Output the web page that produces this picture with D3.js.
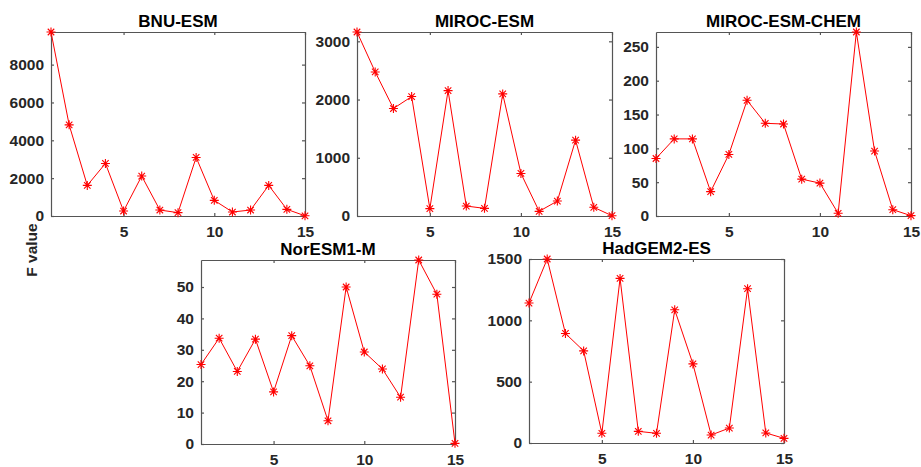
<!DOCTYPE html>
<html>
<head>
<meta charset="utf-8">
<script src="https://cdn.jsdelivr.net/npm/d3@7"></script>
<style>
  body { margin: 0; background: #fff; }
  svg text { font-family: "Liberation Sans", Arial, Helvetica, sans-serif; font-weight: bold; fill: #262626; }
</style>
</head>
<body>
<div id="chart"></div>
<script>
// chart values
const steps = d3.range(1, 16);
const xTicks = [5, 10, 15];

const titles = ["BNU-ESM", "MIROC-ESM", "MIROC-ESM-CHEM", "NorESM1-M", "HadGEM2-ES"];

const bnuEsm = [9724, 4817, 1618, 2778, 264, 2110, 316, 176, 3095, 826, 211, 316, 1618, 352, 10];
const mirocEsm = [3160, 2474, 1846, 2051, 126, 2154, 171, 131, 2097, 731, 80, 257, 1303, 149, 5];
const mirocEsmChem = [85, 114, 114, 36, 91, 171, 137, 136, 54.5, 48.6, 4, 272, 96, 9.3, 0.5];
const norEsm1M = [25.3, 33.7, 23.1, 33.4, 16.6, 34.5, 24.9, 7.4, 50, 29.3, 23.9, 14.9, 58.6, 47.7, 0.2];
const hadGem2Es = [1141, 1500, 893, 751, 79, 1342, 95, 79, 1086, 645, 65, 122, 1258, 82, 38];

const yTicks = [
  [0, 2000, 4000, 6000, 8000],
  [0, 1000, 2000, 3000],
  [0, 50, 100, 150, 200, 250],
  [0, 10, 20, 30, 40, 50],
  [0, 500, 1000, 1500]
];

const series = [bnuEsm, mirocEsm, mirocEsmChem, norEsm1M, hadGem2Es];

// panel boxes (left, top, width, height) in pixels
const panels = [
  {x: 51, y: 32, w: 254, h: 184},
  {x: 357, y: 32, w: 255, h: 184},
  {x: 656, y: 32, w: 255, h: 184},
  {x: 201, y: 260, w: 254, h: 184},
  {x: 529, y: 259, w: 255, h: 184}
];

const svg = d3.select("#chart").append("svg")
    .attr("width", 921)
    .attr("height", 467);

const axisColor = "#555";

panels.forEach((p, i) => {
    const values = series[i];
    const g = svg.append("g").attr("transform", "translate(" + p.x + "," + p.y + ")");

    const x = d3.scaleLinear().domain([1, 15]).range([0, p.w]);
    const y = d3.scaleLinear().domain([0, d3.max(values)]).range([p.h, 0]);

    // axes, MATLAB style: ticks pointing inwards on all four sides
    const bottom = g.append("g")
        .attr("transform", "translate(0," + p.h + ")")
        .call(d3.axisBottom(x).tickValues(xTicks).tickFormat(d3.format("d"))
            .tickSizeInner(-3).tickSizeOuter(0).tickPadding(8));
    g.append("g")
        .call(d3.axisLeft(y).tickValues(yTicks[i]).tickFormat(d3.format("d"))
            .tickSizeInner(-3).tickSizeOuter(0).tickPadding(7));
    g.append("g")
        .call(d3.axisTop(x).tickValues(xTicks).tickSizeInner(-3).tickSizeOuter(0).tickFormat(""));
    g.append("g")
        .attr("transform", "translate(" + p.w + ",0)")
        .call(d3.axisRight(y).tickValues(yTicks[i]).tickSizeInner(-3).tickSizeOuter(0).tickFormat(""));

    g.selectAll(".domain, .tick line").attr("stroke", axisColor).attr("stroke-width", 1.2);
    g.selectAll(".tick text")
        .style("font-size", "15.5px")
        .attr("fill", "#262626");
    bottom.selectAll(".tick text").attr("dy", "0.85em");

    // line
    const line = d3.line()
        .x((d, k) => x(steps[k]))
        .y(d => y(d));

    g.append("path")
        .datum(values)
        .attr("fill", "none")
        .attr("stroke", "#ff0000")
        .attr("stroke-width", 1)
        .attr("d", line);

    // asterisk markers
    const r = 4.5, rd = r * 0.72;
    const star = "M" + (-r) + ",0L" + r + ",0M0," + (-r) + "L0," + r +
        "M" + (-rd) + "," + (-rd) + "L" + rd + "," + rd +
        "M" + (-rd) + "," + rd + "L" + rd + "," + (-rd);
    g.selectAll(".marker")
        .data(values)
        .enter()
        .append("path")
        .attr("class", "marker")
        .attr("transform", (d, k) => "translate(" + x(steps[k]) + "," + y(d) + ")")
        .attr("d", star)
        .attr("stroke", "#ff0000")
        .attr("stroke-width", 1.1)
        .attr("fill", "none");

    // title
    svg.append("text")
        .attr("x", p.x + p.w / 2)
        .attr("y", p.y - 5)
        .attr("text-anchor", "middle")
        .style("font-size", "17px")
        .style("fill", "#000")
        .text(titles[i]);
});

// shared y label
svg.append("text")
    .attr("transform", "translate(37,250) rotate(-90)")
    .attr("text-anchor", "middle")
    .style("font-size", "15.5px")
    .text("F value");
</script>
</body>
</html>
